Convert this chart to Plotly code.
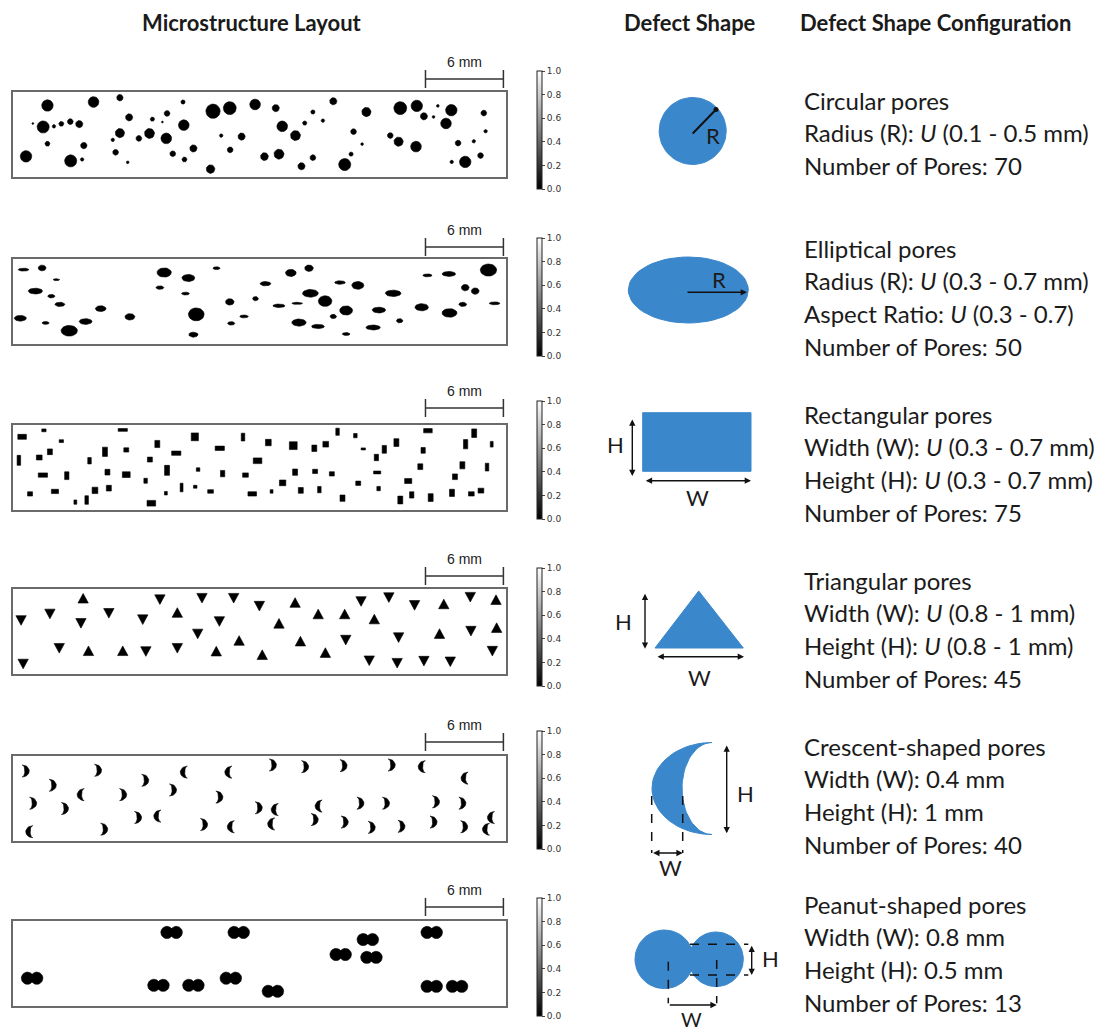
import math
import plotly.graph_objects as go

FIG_W, FIG_H = 1111, 1031
PANEL_W_MM, PANEL_H_MM = 38.0, 6.5
SCALE_BAR_MM = 6

# ---------------- pore data (mm; y measured from the top edge of each layout) ----------------
CIRC_X = [2.69, 6.24, 8.27, 13.13, 15.44, 16.73, 18.68, 20.27, 24.70, 27.25, 29.86, 31.13, 32.75, 33.79, 36.29,
          1.57, 2.36, 3.19, 3.76, 4.45, 5.14, 8.98, 10.77, 11.90, 11.54, 13.19, 23.13, 23.90, 22.50, 20.77,
          31.68, 32.42, 33.38, 36.43, 2.69, 5.49, 7.72, 8.27, 9.73, 10.55, 11.84, 16.07, 17.64, 21.79, 26.26,
          26.92, 29.09, 29.73, 31.07, 34.31, 35.52, 1.04, 4.48, 5.36, 7.94, 8.87, 12.34, 13.24, 13.93, 16.76,
          19.40, 20.52, 22.25, 23.13, 25.58, 26.07, 33.82, 34.86, 36.04, 15.25]
CIRC_Y = [1.04, 0.77, 0.44, 0.77, 1.48, 1.24, 0.96, 1.24, 0.71, 1.54, 1.24, 1.07, 1.07, 1.40, 1.62,
          2.42, 2.69, 2.64, 2.45, 2.28, 2.47, 1.95, 2.09, 1.65, 2.31, 2.55, 1.54, 2.20, 2.39, 2.64,
          1.87, 1.92, 2.42, 3.02, 3.98, 4.12, 3.68, 3.16, 3.57, 3.19, 3.57, 3.35, 3.43, 3.35, 3.05,
          4.01, 3.35, 3.82, 4.20, 3.93, 3.79, 4.95, 5.30, 5.19, 4.64, 5.41, 4.75, 5.19, 4.34, 4.45,
          4.97, 4.78, 5.71, 5.05, 5.58, 4.78, 5.38, 5.38, 4.89, 5.93]
CIRC_D = [0.88, 0.82, 0.49, 0.33, 1.10, 0.99, 0.82, 0.55, 0.55, 0.71, 0.99, 0.88, 0.22, 0.88, 0.44,
          0.16, 0.93, 0.27, 0.38, 0.44, 0.55, 0.55, 0.33, 0.44, 0.16, 0.82, 0.33, 0.27, 0.33, 0.82,
          0.55, 0.22, 0.82, 0.27, 0.38, 0.49, 0.27, 0.71, 0.44, 0.77, 0.82, 0.27, 0.55, 0.77, 0.44,
          0.22, 0.44, 0.71, 0.82, 0.44, 0.27, 0.88, 0.93, 0.27, 0.44, 0.22, 0.44, 0.38, 0.55, 0.44,
          0.60, 0.77, 0.55, 0.44, 0.93, 0.33, 0.27, 0.88, 0.44, 0.66]

ELL_X = [0.85, 2.28, 3.38, 1.76, 2.99, 3.65, 0.60, 2.55, 4.37, 5.63, 6.79, 9.04, 11.68, 11.35, 13.54, 13.32,
         14.15, 13.93, 15.71, 16.73, 16.84, 17.83, 18.71, 19.48, 20.52, 21.43, 22.83, 21.92, 22.94, 24.07,
         22.06, 23.52, 24.70, 25.22, 26.59, 25.69, 25.69, 27.77, 28.21, 29.31, 29.81, 31.51, 31.95, 33.60,
         33.65, 34.67, 34.86, 35.63, 36.65, 37.12]
ELL_Y = [0.82, 0.69, 1.59, 2.47, 2.86, 3.49, 4.56, 4.92, 5.52, 4.81, 3.82, 4.45, 1.04, 2.20, 1.46, 2.66,
         4.26, 5.82, 0.71, 3.30, 4.95, 4.42, 3.05, 1.90, 3.60, 1.07, 0.71, 3.41, 2.64, 3.24,
         4.89, 5.19, 4.42, 1.81, 2.03, 3.96, 5.77, 5.27, 3.93, 2.64, 4.75, 3.71, 1.26, 1.15,
         4.15, 3.49, 2.20, 2.47, 0.85, 3.41]
ELL_W = [0.82, 0.60, 0.49, 1.10, 0.55, 0.77, 0.93, 0.55, 1.26, 0.99, 0.82, 0.77, 1.10, 0.60, 0.99, 0.60,
         1.21, 0.71, 0.55, 0.66, 0.55, 0.66, 0.44, 0.82, 0.93, 0.82, 0.66, 0.82, 1.21, 1.04,
         1.10, 0.99, 0.49, 0.82, 0.93, 0.99, 0.60, 1.10, 1.04, 1.21, 0.49, 1.04, 0.71, 1.04,
         1.15, 0.60, 0.60, 0.60, 1.26, 0.82]
ELL_H = [0.22, 0.44, 0.16, 0.44, 0.27, 0.33, 0.44, 0.22, 0.82, 0.44, 0.44, 0.49, 0.71, 0.27, 0.55, 0.22,
         0.99, 0.38, 0.22, 0.49, 0.27, 0.22, 0.33, 0.33, 0.27, 0.55, 0.49, 0.16, 0.60, 0.82,
         0.55, 0.33, 0.33, 0.27, 0.60, 0.71, 0.22, 0.38, 0.44, 0.49, 0.33, 0.55, 0.22, 0.38,
         0.66, 0.33, 0.49, 0.49, 0.93, 0.22]

RECT_X = [0.74, 2.42, 3.76, 8.49, 0.49, 2.06, 2.88, 2.34, 4.18, 1.35, 3.27, 4.84, 5.71, 6.35, 7.42,
          5.93, 7.12, 7.31, 8.76, 8.76, 10.25, 10.58, 11.15, 12.61, 11.90, 10.69, 11.81, 13.02, 14.07,
          14.29, 14.04, 15.25, 15.96, 16.18, 17.94, 17.75, 18.87, 18.46, 19.70, 19.95, 20.80, 21.62,
          21.76, 22.20, 23.24, 23.30, 23.63, 24.12, 24.59, 25.03, 25.41, 26.40, 26.62, 27.01, 28.02,
          28.63, 28.08, 28.19, 29.56, 30.47, 29.86, 30.74, 31.62, 31.40, 31.99, 32.20, 33.84, 34.07,
          34.64, 34.89, 35.33, 36.07, 35.55, 36.54, 36.90]
RECT_Y = [0.91, 0.41, 1.24, 0.38, 2.72, 2.50, 2.06, 3.85, 3.90, 5.30, 5.11, 5.93, 5.77, 5.03, 4.86,
          2.75, 2.06, 3.63, 1.92, 3.82, 4.29, 2.66, 1.46, 2.17, 3.49, 6.02, 5.25, 4.81, 4.75,
          3.43, 0.91, 5.11, 1.79, 3.74, 3.85, 0.93, 2.75, 5.30, 1.35, 5.11, 4.45, 1.59,
          3.63, 5.03, 1.79, 3.57, 4.97, 1.48, 3.76, 0.52, 5.63, 0.82, 4.48, 1.84, 2.50,
          1.87, 3.65, 4.89, 1.35, 4.31, 5.77, 5.38, 1.95, 3.21, 0.44, 5.58, 5.22, 3.98,
          3.10, 1.48, 5.30, 5.05, 0.63, 3.24, 1.48]
RECT_W = [0.66, 0.33, 0.33, 0.71, 0.27, 0.44, 0.38, 0.71, 0.33, 0.38, 0.55, 0.22, 0.27, 0.44, 0.38,
          0.27, 0.38, 0.38, 0.38, 0.60, 0.27, 0.38, 0.38, 0.71, 0.38, 0.66, 0.22, 0.22, 0.27,
          0.27, 0.55, 0.44, 0.71, 0.33, 0.44, 0.27, 0.66, 0.66, 0.44, 0.22, 0.49, 0.60,
          0.38, 0.38, 0.38, 0.38, 0.27, 0.44, 0.38, 0.27, 0.38, 0.27, 0.38, 0.33, 0.33,
          0.33, 0.55, 0.27, 0.38, 0.55, 0.38, 0.33, 0.33, 0.38, 0.66, 0.38, 0.38, 0.38,
          0.38, 0.33, 0.44, 0.44, 0.38, 0.27, 0.22]
RECT_H = [0.38, 0.22, 0.22, 0.22, 0.77, 0.38, 0.44, 0.33, 0.60, 0.33, 0.33, 0.33, 0.66, 0.49, 0.44,
          0.49, 0.71, 0.44, 0.33, 0.44, 0.38, 0.38, 0.55, 0.33, 0.77, 0.44, 0.27, 0.66, 0.22,
          0.27, 0.60, 0.27, 0.33, 0.49, 0.33, 0.60, 0.44, 0.33, 0.49, 0.27, 0.44, 0.60,
          0.49, 0.44, 0.49, 0.33, 0.49, 0.44, 0.33, 0.55, 0.49, 0.33, 0.33, 0.16, 0.49,
          0.60, 0.22, 0.33, 0.60, 0.38, 0.60, 0.49, 0.44, 0.44, 0.33, 0.60, 0.55, 0.44,
          0.55, 0.71, 0.33, 0.38, 0.66, 0.60, 0.44]

TRI_X = [5.44, 11.35, 14.59, 17.03, 19.01, 21.76, 26.84, 28.98, 30.96, 33.21, 35.25, 37.23,
         0.66, 2.88, 5.27, 7.42, 10.03, 12.69, 15.93, 20.52, 23.54, 25.58, 27.86, 14.26, 37.28,
         32.88, 35.30, 29.73, 25.66, 22.17, 17.45, 0.82, 3.60, 5.85, 8.49, 10.27, 12.69, 15.69,
         19.23, 24.09, 27.47, 29.62, 31.68, 33.71, 36.95]
TRI_Y = [0.71, 0.82, 0.71, 0.71, 1.32, 1.04, 0.96, 0.66, 1.26, 1.15, 0.63, 0.82,
         2.42, 1.92, 2.64, 1.87, 2.36, 1.81, 2.50, 2.64, 1.92, 1.92, 2.31, 3.46, 2.97,
         3.43, 3.24, 3.74, 3.93, 4.01, 3.96, 5.77, 4.56, 4.75, 4.75, 4.81, 4.56, 4.78,
         5.05, 4.89, 5.52, 5.71, 5.55, 5.60, 4.78]
TRI_DIR = ["up", "down", "down", "down", "down", "up", "down", "down", "down", "up", "down", "up",
           "down", "down", "down", "down", "down", "up", "down", "up", "up", "up", "up", "down", "up",
           "up", "down", "down", "down", "up", "up", "down", "down", "up", "up", "down", "down", "up",
           "up", "up", "down", "down", "down", "down", "down"]

CRES_X = [1.02, 3.10, 1.59, 4.04, 1.29, 5.25, 6.59, 8.52, 10.22, 12.36, 13.19, 9.67, 11.15, 7.06,
          16.62, 15.93, 14.75, 16.81, 20.05, 22.53, 25.49, 29.20, 31.51, 18.96, 20.19, 19.92, 23.57,
          26.79, 28.76, 23.27, 25.58, 27.66, 29.95, 32.42, 32.61, 34.81, 34.64, 36.84, 34.78, 36.46]
CRES_Y = [1.15, 2.25, 3.63, 4.04, 5.82, 2.97, 1.10, 2.97, 1.87, 2.61, 1.24, 4.73, 4.62, 5.63,
          1.24, 3.16, 5.27, 5.44, 0.69, 0.82, 0.74, 0.69, 0.82, 3.98, 4.12, 5.22, 3.85,
          3.63, 3.63, 4.89, 5.08, 5.49, 5.41, 5.08, 3.52, 1.70, 3.63, 4.73, 5.44, 5.63]
# "R": bulge to the right ")" ; "L": bulge to the left "("
CRES_DIR = ["R", "R", "R", "R", "L", "L", "R", "R", "R", "R", "L", "R", "L", "R",
            "L", "R", "R", "L", "R", "R", "R", "R", "L", "R", "L", "L", "L",
            "R", "R", "R", "R", "R", "R", "R", "R", "L", "R", "L", "R", "L"]

PEAN_X = [1.51, 12.25, 17.42, 11.24, 13.93, 16.81, 20.05, 25.27, 27.36, 27.64, 32.28, 32.28, 34.23]
PEAN_Y = [4.40, 0.88, 0.88, 4.95, 4.95, 4.40, 5.41, 2.58, 1.43, 2.80, 0.88, 5.03, 5.03]

# nominal pore geometry used in the layouts (mm)
TRI_W, TRI_H = 0.80, 0.74
CRES_OUT, CRES_IN, CRES_HALF_H = 0.54, 0.20, 0.46
PEAN_R, PEAN_SEP = 0.47, 0.72

for a, b in [(CIRC_X, CIRC_Y), (CIRC_X, CIRC_D), (ELL_X, ELL_Y), (ELL_X, ELL_W), (ELL_X, ELL_H),
             (RECT_X, RECT_Y), (RECT_X, RECT_W), (RECT_X, RECT_H), (TRI_X, TRI_Y), (TRI_X, TRI_DIR),
             (CRES_X, CRES_Y), (CRES_X, CRES_DIR), (PEAN_X, PEAN_Y)]:
    assert len(a) == len(b)

# ---------------- page layout (pixels from the top-left corner) ----------------
PANEL_LEFT, PANEL_RIGHT = 12.5, 506.0
PANEL_TOP = [92, 259, 425, 589, 756, 921]
PANEL_HPX = 84.5
SCALE_Y = [79, 247, 408, 576, 742, 907]
CBAR_LEFT = 537
CBAR_TOP = [71, 238, 401, 568, 731, 898]
CBAR_LEN = 118
TEXT_X = 802
TEXT_Y0 = [100, 248, 414, 580, 746, 904]
TEXT_STEP = 32.8

BLUE = "#3B87CB"
INK = "#1b1b1b"
TXT_FONT = "Lato"


def px_to_paper_y(py):
    return 1 - py / FIG_H


def ring(cx, cy, rx, ry, n=28):
    xs = [cx + rx * math.cos(2 * math.pi * k / n) for k in range(n + 1)]
    ys = [cy + ry * math.sin(2 * math.pi * k / n) for k in range(n + 1)]
    return xs, ys


def join(polys):
    X, Y = [], []
    for xs, ys in polys:
        X += list(xs) + [None]
        Y += list(ys) + [None]
    return X, Y


def circles():
    return [ring(x, y, d / 2, d / 2) for x, y, d in zip(CIRC_X, CIRC_Y, CIRC_D)]


def ellipses():
    return [ring(x, y, w / 2, h / 2) for x, y, w, h in zip(ELL_X, ELL_Y, ELL_W, ELL_H)]


def rects():
    out = []
    for x, y, w, h in zip(RECT_X, RECT_Y, RECT_W, RECT_H):
        out.append(([x - w / 2, x + w / 2, x + w / 2, x - w / 2, x - w / 2],
                    [y - h / 2, y - h / 2, y + h / 2, y + h / 2, y - h / 2]))
    return out


def triangles():
    out = []
    for x, y, d in zip(TRI_X, TRI_Y, TRI_DIR):
        s = 1 if d == "up" else -1  # y grows downwards
        out.append(([x - TRI_W / 2, x + TRI_W / 2, x, x - TRI_W / 2],
                    [y + s * TRI_H / 2, y + s * TRI_H / 2, y - s * TRI_H / 2, y + s * TRI_H / 2]))
    return out


def crescents():
    out = []
    n = 16
    for x, y, d in zip(CRES_X, CRES_Y, CRES_DIR):
        s = 1 if d == "R" else -1
        x0 = x - s * CRES_OUT / 2
        xs, ys = [], []
        for k in range(n + 1):
            t = -math.pi / 2 + math.pi * k / n
            xs.append(x0 + s * CRES_OUT * math.cos(t))
            ys.append(y + CRES_HALF_H * math.sin(t))
        for k in range(n, -1, -1):
            t = -math.pi / 2 + math.pi * k / n
            xs.append(x0 + s * CRES_IN * math.cos(t))
            ys.append(y + CRES_HALF_H * math.sin(t))
        out.append((xs, ys))
    return out


def peanuts():
    out = []
    for x, y in zip(PEAN_X, PEAN_Y):
        out.append(ring(x - PEAN_SEP / 2, y, PEAN_R, PEAN_R))
        out.append(ring(x + PEAN_SEP / 2, y, PEAN_R, PEAN_R))
    return out


rows = [circles(), ellipses(), rects(), triangles(), crescents(), peanuts()]

fig = go.Figure()
layout = dict(width=FIG_W, height=FIG_H, margin=dict(l=0, r=0, t=0, b=0),
              paper_bgcolor="white", plot_bgcolor="rgba(0,0,0,0)", showlegend=False)
shapes, annotations = [], []
GREYS = [[0, "black"], [1, "white"]]

for i, polys in enumerate(rows, start=1):
    sfx = "" if i == 1 else str(i)
    top = PANEL_TOP[i - 1]
    ydom = [px_to_paper_y(top + PANEL_HPX), px_to_paper_y(top)]
    layout["xaxis" + sfx] = dict(domain=[PANEL_LEFT / FIG_W, PANEL_RIGHT / FIG_W], range=[0, PANEL_W_MM],
                                 anchor="y" + sfx, showgrid=False, zeroline=False, showticklabels=False,
                                 ticks="", showline=True, mirror=True, linecolor="#6a6a6a", linewidth=1.6,
                                 fixedrange=True)
    layout["yaxis" + sfx] = dict(domain=ydom, range=[PANEL_H_MM, 0], anchor="x" + sfx, showgrid=False,
                                 zeroline=False, showticklabels=False, ticks="", showline=True, mirror=True,
                                 linecolor="#6a6a6a", linewidth=1.6, fixedrange=True)
    X, Y = join(polys)
    fig.add_trace(go.Scatter(x=X, y=Y, mode="lines", fill="toself", fillcolor="black",
                             line=dict(color="black", width=0.6), xaxis="x" + sfx, yaxis="y" + sfx,
                             hoverinfo="skip"))
    # grey-level scale of the layout image
    cax = "coloraxis" + sfx
    cb_top = CBAR_TOP[i - 1]
    layout[cax] = dict(cmin=0, cmax=1, colorscale=GREYS,
                       colorbar=dict(x=CBAR_LEFT / FIG_W, xanchor="left", xpad=0, ypad=0,
                                     y=px_to_paper_y(cb_top + CBAR_LEN / 2), yanchor="middle",
                                     len=CBAR_LEN, lenmode="pixels", thickness=5, thicknessmode="pixels",
                                     outlinewidth=1, outlinecolor="#222",
                                     tickvals=[0, 0.2, 0.4, 0.6, 0.8, 1.0],
                                     ticktext=["0.0", "0.2", "0.4", "0.6", "0.8", "1.0"],
                                     ticks="outside", ticklen=3, tickwidth=1, tickcolor="#444",
                                     tickfont=dict(family="DejaVu Sans", size=9, color="#333")))
    fig.add_trace(go.Scatter(x=[-5], y=[-5], mode="markers",
                             marker=dict(color=[0.5], coloraxis=cax, opacity=0, size=1),
                             xaxis="x" + sfx, yaxis="y" + sfx, hoverinfo="skip"))
    # 6 mm scale bar, drawn in the layout's own mm units along x
    sy = px_to_paper_y(SCALE_Y[i - 1])
    tk = 9 / FIG_H
    x1 = PANEL_W_MM - 0.2
    x0 = x1 - SCALE_BAR_MM
    bar = dict(type="line", xref="x" + sfx, yref="paper", line=dict(color="#333", width=1.5))
    shapes.append(dict(bar, x0=x0, x1=x1, y0=sy, y1=sy))
    shapes.append(dict(bar, x0=x0, x1=x0, y0=sy - tk, y1=sy + tk))
    shapes.append(dict(bar, x0=x1, x1=x1, y0=sy - tk, y1=sy + tk))
    annotations.append(dict(x=(x0 + x1) / 2, y=SCALE_Y[i - 1] - 17, xref="x" + sfx,
                            yref="y7", text=f"{SCALE_BAR_MM} mm", showarrow=False,
                            xanchor="center", yanchor="middle",
                            font=dict(family="Liberation Sans", size=14, color="#222")))

# overlay in page pixels for the shape sketches and text
layout["xaxis7"] = dict(domain=[0, 1], range=[0, FIG_W], anchor="y7", visible=False, fixedrange=True)
layout["yaxis7"] = dict(domain=[0, 1], range=[FIG_H, 0], anchor="x7", visible=False, fixedrange=True)


def blue(xs, ys):
    fig.add_trace(go.Scatter(x=xs, y=ys, mode="lines", fill="toself", fillcolor=BLUE,
                             line=dict(color=BLUE, width=1), xaxis="x7", yaxis="y7", hoverinfo="skip"))


def label(x, y, text, size=20, anchor="center", bold=False, color=INK):
    annotations.append(dict(x=x, y=y, xref="x7", yref="y7", text=f"<b>{text}</b>" if bold else text,
                            showarrow=False, xanchor=anchor, yanchor="middle",
                            font=dict(family=TXT_FONT, size=size, color=color)))


def arrow(x0, y0, x1, y1, both=True):
    annotations.append(dict(x=x1, y=y1, ax=x0, ay=y0, xref="x7", yref="y7", axref="x7", ayref="y7",
                            text="", showarrow=True, arrowhead=2, arrowsize=0.9, arrowwidth=1.4,
                            arrowcolor="#111", arrowside="end+start" if both else "end",
                            startarrowhead=2, startarrowsize=0.9, standoff=0, startstandoff=0))


def line(x0, y0, x1, y1, dash="solid", width=1.5):
    shapes.append(dict(type="line", xref="x7", yref="y7", x0=x0, y0=y0, x1=x1, y1=y1,
                       line=dict(color="#111", width=width, dash=dash)))


ICON_FS = 22

# circle
blue(*ring(692.7, 131, 33.5, 33.5, 60))
line(692.7, 133.5, 716, 109.5, width=2)
fig.add_trace(go.Scatter(x=[716], y=[109.5], mode="markers", marker=dict(color="#111", size=5),
                         xaxis="x7", yaxis="y7", hoverinfo="skip"))
label(712.5, 135, "R", size=ICON_FS)

# ellipse
blue(*ring(688.3, 290, 60, 33, 60))
arrow(686, 292.3, 747, 292.3, both=False)
label(719, 279, "R", size=ICON_FS)

# rectangle
blue([642.7, 751, 751, 642.7, 642.7], [412.7, 412.7, 471.3, 471.3, 412.7])
arrow(632.3, 418, 632.3, 476)
arrow(644.3, 480.7, 751, 480.7)
label(615, 444, "H", size=ICON_FS)
label(697, 497, "W", size=ICON_FS)

# triangle
blue([655, 743.3, 698.7, 655], [648, 648, 591, 648])
arrow(645, 592.3, 645, 648.7)
arrow(656, 656.7, 744, 656.7)
label(623, 621, "H", size=ICON_FS)
label(699, 677, "W", size=ICON_FS)

# crescent
cx, cy, a_out, a_in, hb = 712, 788.5, 60, 30, 46
cxs, cys = [], []
for k in range(41):
    t = math.pi / 2 + math.pi * k / 40
    cxs.append(cx + a_out * math.cos(t))
    cys.append(cy - hb * math.sin(t))
for k in range(40, -1, -1):
    t = math.pi / 2 + math.pi * k / 40
    cxs.append(cx + a_in * math.cos(t))
    cys.append(cy - hb * math.sin(t))
blue(cxs, cys)
line(651.7, 796, 651.7, 853, dash="dash")
line(682.7, 796, 682.7, 853, dash="dash")
arrow(651.7, 853, 682.7, 853)
arrow(726.7, 744, 726.7, 833.3)
label(670, 867, "W", size=ICON_FS)
label(745, 793, "H", size=ICON_FS)

# peanut
blue(*ring(664.3, 959.3, 29.3, 29.3, 60))
blue(*ring(716, 959.3, 27.3, 27.3, 60))
line(690, 944.3, 748.3, 944.3, dash="dash")
line(690, 975, 748.3, 975, dash="dash")
line(668.3, 961.7, 668.3, 1003.3, dash="dash")
line(716.7, 960, 716.7, 1003.3, dash="dash")
arrow(751.7, 944.3, 751.7, 975)
arrow(668.3, 1005, 716.7, 1005, both=False)
label(770, 958, "H", size=ICON_FS)
label(691.7, 1019, "W", size=20)

# headers
label(252, 22, "Microstructure Layout", size=22, bold=True)
label(690, 22, "Defect Shape", size=22, bold=True)
label(798, 22, "Defect Shape Configuration", size=22, anchor="left", bold=True)

U = "<i>U</i>"
config_text = [
    ["Circular pores", f"Radius (R): {U} (0.1 - 0.5 mm)", f"Number of Pores: {len(CIRC_X)}"],
    ["Elliptical pores", f"Radius (R): {U} (0.3 - 0.7 mm)", f"Aspect Ratio: {U} (0.3 - 0.7)",
     f"Number of Pores: {len(ELL_X)}"],
    ["Rectangular pores", f"Width (W): {U} (0.3 - 0.7 mm)", f"Height (H): {U} (0.3 - 0.7 mm)",
     f"Number of Pores: {len(RECT_X)}"],
    ["Triangular pores", f"Width (W): {U} (0.8 - 1 mm)", f"Height (H): {U} (0.8 - 1 mm)",
     f"Number of Pores: {len(TRI_X)}"],
    ["Crescent-shaped pores", "Width (W): 0.4 mm", "Height (H): 1 mm", f"Number of Pores: {len(CRES_X)}"],
    ["Peanut-shaped pores", "Width (W): 0.8 mm", "Height (H): 0.5 mm", f"Number of Pores: {len(PEAN_X)}"],
]
for y0, lines in zip(TEXT_Y0, config_text):
    for k, t in enumerate(lines):
        label(TEXT_X, y0 + k * TEXT_STEP, t, size=24, anchor="left")

layout["shapes"] = shapes
layout["annotations"] = annotations
fig.update_layout(**layout)
fig.write_html("out.html")
